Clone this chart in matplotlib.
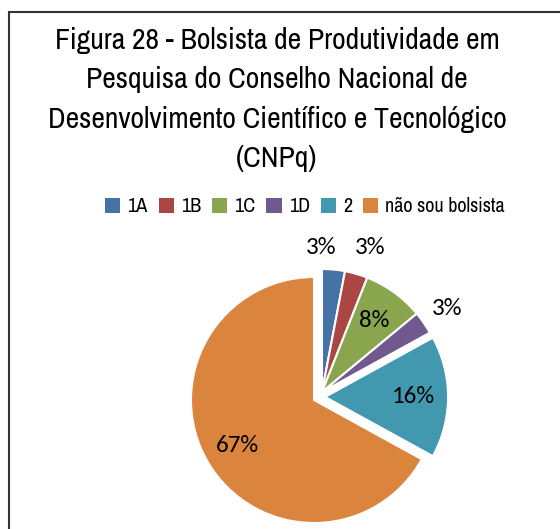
import matplotlib
matplotlib.use("Agg")
import matplotlib.pyplot as plt
from matplotlib.patches import Rectangle

# data
categories = ["1A", "1B", "1C", "1D", "2", "não sou bolsista"]
values = [3, 3, 8, 3, 16, 67]
colors = ["#4572A7", "#AA4643", "#89A54E", "#71588F", "#4198AF", "#DB843D"]
title = ("Figura 28 - Bolsista de Produtividade em\n"
         "Pesquisa do Conselho Nacional de\n"
         "Desenvolvimento Científico e Tecnológico\n"
         "(CNPq)")

NARROW = ["Archivo Narrow", "Liberation Sans Narrow", "DejaVu Sans"]
LABEL_FONT = ["Carlito", "Lato", "DejaVu Sans"]

W, H = 560, 529
CX, CY, R = 314, 400, 123          # pie centre/radius in pixels (from top)

fig = plt.figure(figsize=(W / 100, H / 100), dpi=100)
ax = fig.add_axes([0, 0, 1, 1])

wedges, _, autotexts = ax.pie(
    values, colors=colors, startangle=90, counterclock=False,
    autopct="%1.0f%%", pctdistance=0.72,
    wedgeprops=dict(edgecolor="white", linewidth=1.5),
    textprops=dict(family=LABEL_FONT, fontsize=18, color="black"))

# small slices are pulled out together, the "2" slice on its own
shifts = [(0.065, 0.065)] * 4 + [(0.09, 0.025), (0.0, 0.0)]
outside = {0: (0.06, 1.24), 1: (0.46, 1.24), 3: (1.08, 0.74)}
for i, (w, t) in enumerate(zip(wedges, autotexts)):
    dx, dy = shifts[i]
    w.set_center((dx, dy))
    if i in outside:
        t.set_position(outside[i])
    else:
        x, y = t.get_position()
        t.set_position((x + dx, y + dy))

ax.set_xlim(-CX / R, (W - CX) / R)
ax.set_ylim(-(H - CY) / R, CY / R)
ax.set_aspect("auto")
ax.axis("off")

fig.text(277 / W, 1 - 27 / H, title, ha="center", va="top",
         family=NARROW, fontsize=21.4, linespacing=1.56)

leg = fig.legend(wedges, categories, loc="center", ncol=6,
                 bbox_to_anchor=(305 / W, 1 - 207 / H), frameon=False,
                 prop=dict(family=NARROW, size=14.5),
                 handlelength=0.75, handleheight=0.75, handletextpad=0.35,
                 columnspacing=0.55, borderpad=0)
for h in leg.legend_handles:
    h.set_edgecolor("none")

# chart border, cut off on the right and bottom like the source
fig.patches.append(Rectangle((9 / W, -0.1), 1.2, 1 - 12 / H + 0.1,
                             transform=fig.transFigure, fill=False,
                             edgecolor="#333333", linewidth=1.5))

fig.savefig("out.png", dpi=100)
